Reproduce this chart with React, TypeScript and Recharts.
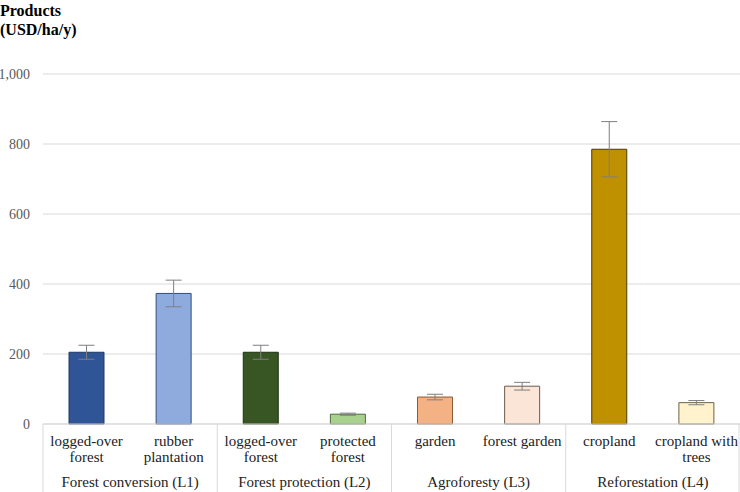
import React from "react";
import { BarChart, Bar, XAxis, YAxis, CartesianGrid, ErrorBar, Cell } from "recharts";

const landUses = [
  "logged-over\nforest",
  "rubber\nplantation",
  "logged-over\nforest",
  "protected\nforest",
  "garden",
  "forest garden",
  "cropland",
  "cropland with\ntrees",
];
const scenarios = [
  "Forest conversion (L1)",
  "Forest protection (L2)",
  "Agroforesty (L3)",
  "Reforestation (L4)",
];
const products = [205, 373, 205, 28, 77, 108, 785, 61];
const productErrors = [20, 38, 20, 3, 8, 11, 79, 6];
const yTicks = [0, 200, 400, 600, 800, 1000];

const fills = ["#2F5597", "#8FAADC", "#375623", "#A9D18E", "#F4B183", "#FBE5D6", "#BF9000", "#FFF2CC"];
const strokes = ["#1F3864", "#2F4F7F", "#1E3014", "#4E6B3A", "#8A5A35", "#6B5B4E", "#4D3A00", "#6B6244"];

const W = 740;
const H = 492;
const LEFT = 43;
const TOP = 74;
const BOTTOM = 424;
const band = (W - LEFT) / landUses.length;
const font = "'Times New Roman', 'Liberation Serif', 'DejaVu Serif', serif";

const data = landUses.map((name, i) => ({
  key: `${i}`,
  name,
  group: scenarios[Math.floor(i / 2)],
  value: products[i],
  err: productErrors[i],
}));

function CategoryTick(props: any) {
  const { x, payload } = props;
  const i = payload.index;
  const d = data[i];
  const lines = d.name.split("\n");
  return (
    <g>
      {lines.map((l: string, k: number) => (
        <text
          key={k}
          x={x}
          y={BOTTOM + 22 + k * 16}
          textAnchor="middle"
          style={{ fontFamily: font, fontSize: 15 }}
          fill="#222"
        >
          {l}
        </text>
      ))}
      {i % 2 === 0 && (
        <>
          <line x1={x - band / 2} x2={x - band / 2} y1={BOTTOM} y2={H} stroke="#d9d9d9" />
          <text
            x={x + band / 2}
            y={BOTTOM + 63}
            textAnchor="middle"
            style={{ fontFamily: font, fontSize: 15 }}
            fill="#222"
          >
            {d.group}
          </text>
        </>
      )}
      {i === data.length - 1 && (
        <line x1={x + band / 2 - 1} x2={x + band / 2 - 1} y1={BOTTOM} y2={H} stroke="#d9d9d9" />
      )}
    </g>
  );
}

export default function App() {
  return (
    <div style={{ position: "absolute", left: 0, top: 0, width: W, height: H, background: "#fff" }}>
      <div
        style={{
          position: "absolute",
          left: 0,
          top: 1,
          fontFamily: font,
          fontWeight: "bold",
          fontSize: 16,
          lineHeight: "19px",
          color: "#000",
        }}
      >
        Products
        <br />
        (USD/ha/y)
      </div>
      <BarChart
        width={W}
        height={H}
        data={data}
        margin={{ top: TOP, right: 0, bottom: 0, left: 0 }}
      >
        <CartesianGrid vertical={false} stroke="#d9d9d9" />
        <XAxis
          dataKey="key"
          axisLine={{ stroke: "#d9d9d9" }}
          tickLine={false}
          tick={<CategoryTick />}
          interval={0}
          height={H - BOTTOM}
        />
        <YAxis
          width={LEFT}
          domain={[0, 1000]}
          ticks={yTicks}
          axisLine={false}
          tickLine={false}
          tickSize={0}
          tickMargin={13}
          tickFormatter={(v: number) => v.toLocaleString("en-US")}
          tick={{ fontFamily: font, fontSize: 14, fill: "#595959" }}
        />
        <Bar dataKey="value" barSize={35} isAnimationActive={false}>
          {data.map((d, i) => (
            <Cell key={d.key} fill={fills[i]} stroke={strokes[i]} strokeWidth={1} />
          ))}
          <ErrorBar dataKey="err" width={8} stroke="#7f7f7f" strokeWidth={1} />
        </Bar>
      </BarChart>
    </div>
  );
}
